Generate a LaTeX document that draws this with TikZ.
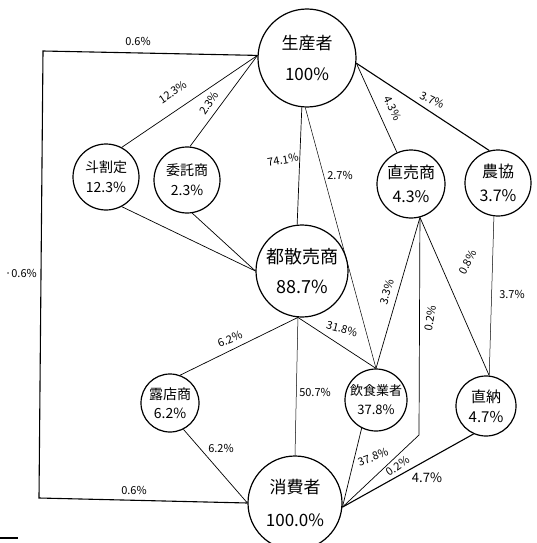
\documentclass[tikz,border=0pt]{standalone}
\usepackage{fontspec}
\setmainfont{Noto Sans CJK JP}
\begin{document}
\begin{tikzpicture}[x=1pt,y=1pt,
  stage/.style={circle,draw,line width=1.2pt,inner sep=0pt,align=center,font=\fontsize{14}{16}\selectfont},
  flow/.style={line width=0.7pt},
  heavy/.style={line width=1.1pt},
  pct/.style={font=\fontsize{11}{13}\selectfont,inner sep=1pt}]
\useasboundingbox (0,0) rectangle (537,-543);
% nodes
\node[stage,minimum size=98pt,font=\fontsize{17}{19}\selectfont] (P) at (307,-58) {生産者\\[12pt]100\%};
\node[stage,minimum size=66pt] (A) at (106,-177) {斗割定\\[4pt]12.3\%};
\node[stage,minimum size=66pt] (B) at (187,-180) {委託商\\[4pt]2.3\%};
\node[stage,minimum size=92pt,font=\fontsize{18}{20}\selectfont] (W) at (302,-271) {都散売商\\[10pt]88.7\%};
\node[stage,minimum size=68pt,font=\fontsize{16}{18}\selectfont] (C) at (411,-184) {直売商\\[6pt]4.3\%};
\node[stage,minimum size=66pt,font=\fontsize{16}{18}\selectfont] (N) at (498,-183) {農協\\[6pt]3.7\%};
\node[stage,minimum size=58pt] (R) at (170,-403) {露店商\\[3pt]6.2\%};
\node[stage,minimum size=62pt,font=\fontsize{13}{15}\selectfont] (F) at (376,-400) {飲食業者\\[4pt]37.8\%};
\node[stage,minimum size=60pt,font=\fontsize{15}{17}\selectfont] (D) at (486,-406) {直納\\[3pt]4.7\%};
\node[stage,minimum size=94pt,font=\fontsize{17}{19}\selectfont] (K) at (295,-503) {消費者\\[14pt]100.0\%};
% frame coordinates
\coordinate (tl) at (43,-51);
\coordinate (bl) at (39,-498);
\coordinate (vb) at (419,-435);
% connectors
\draw[heavy] (P.177) -- (tl) -- (bl) -- (K.180);
\draw[flow] (P.177) -- (A.62);
\draw[flow] (P.177) -- (B.85);
\draw[flow] (P.-96) -- (W.96);
\draw[flow,line width=0.5pt] (P.-92) -- (F.90);
\draw[flow] (P.-6) -- (C.114);
\draw[heavy] (P.-6) -- (N.105);
\draw[flow] (A.-62) -- (W.180);
\draw[flow] (B.-81) -- (W.180);
\draw[flow] (W.-95) -- (R.70);
\draw[flow] (W.-95) -- (F.90);
\draw[flow,line width=0.5pt] (W.-95) -- (K.90);
\draw[flow] (C.-75) -- (F.90);
\draw[flow] (C.-75) -- (vb) -- (K.-5);
\draw[flow] (C.-75) -- (D.84);
\draw[flow,line width=0.5pt] (N.-97) -- (D.84);
\draw[flow] (R.-63) -- (K.180);
\draw[flow] (F.-117) -- (K.-5);
\draw[heavy] (D.-114) -- (K.-5);
\draw[line width=1.5pt] (0,-538) -- (18,-538);
% labels
\node[pct] (l1) at (138,-41) {0.6\%};
\node[pct,rotate=34] (l2) at (173,-92) {12.3\%};
\node[pct,rotate=55] (l3) at (209,-103) {2.3\%};
\node[pct,rotate=10] (l4) at (283,-160) {74.1\%};
\node[pct] (l5) at (340,-175) {2.7\%};
\node[pct,rotate=-65] (l6) at (393,-108) {4.3\%};
\node[pct,rotate=-25] (l7) at (432,-100) {3.7\%};
\node[pct] (l8) at (21,-273) {·0.6\%};
\node[pct,rotate=73] (l9) at (387,-292) {3.3\%};
\node[pct,rotate=80] (l10) at (430,-318) {0.2\%};
\node[pct,rotate=62] (l11) at (468,-262) {0.8\%};
\node[pct] (l12) at (512,-294) {3.7\%};
\node[pct,rotate=22] (l13) at (230,-339) {6.2\%};
\node[pct,rotate=-15] (l14) at (342,-329) {31.8\%};
\node[pct] (l15) at (315,-392) {50.7\%};
\node[pct] (l16) at (221,-448) {6.2\%};
\node[pct] (l17) at (134,-490) {0.6\%};
\node[pct,rotate=20] (l18) at (373,-457) {37.8\%};
\node[pct,rotate=35] (l19) at (398,-466) {0.2\%};
\node[pct,font=\fontsize{13}{15}\selectfont] (l20) at (427,-478) {4.7\%};
\end{tikzpicture}
\end{document}
